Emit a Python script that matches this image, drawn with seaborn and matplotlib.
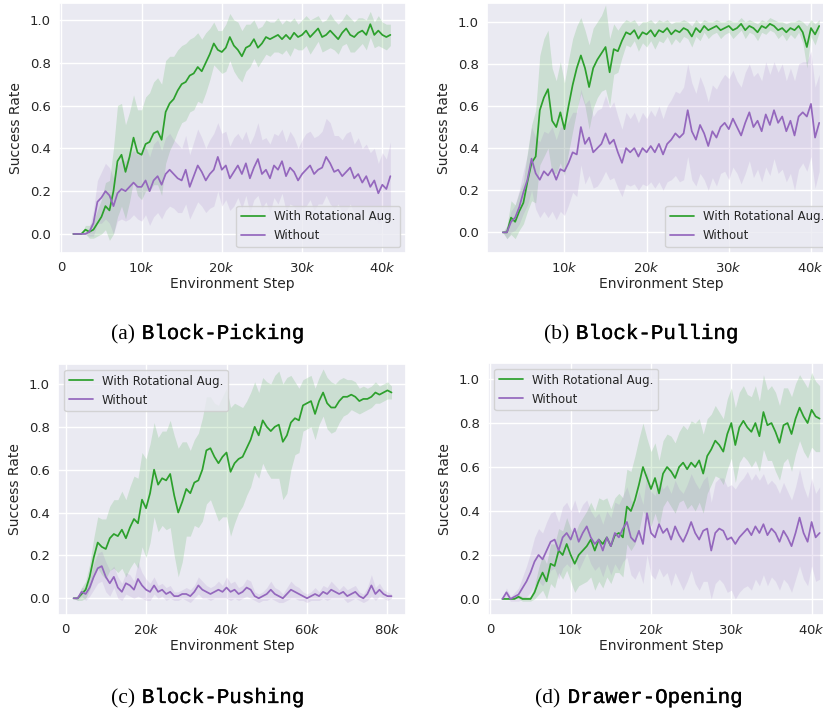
import numpy as np
import pandas as pd
import matplotlib
matplotlib.use("Agg")
import matplotlib.pyplot as plt
import matplotlib.patheffects as pe
from matplotlib.ticker import FuncFormatter, MultipleLocator
import seaborn as sns

# ---------------------------------------------------------------------------
# Success rate (in percent) with a +/- spread, for each task.
# "aug" = with rotational augmentation, "base" = without.
# ---------------------------------------------------------------------------
LABEL_AUG = "With Rotational Aug."
LABEL_BASE = "Without"

picking_steps = np.arange(1500, 41001, 500)
picking_aug = [
    0, 0, 0, 2, 1, 2, 5, 8, 13, 11,
    20, 34, 37, 29, 36, 45, 38, 37, 42, 43,
    47, 48, 44, 57, 61, 63, 67, 70, 71, 74,
    75, 78, 76, 80, 84, 89, 86, 85, 87, 92,
    88, 86, 83, 87, 88, 91, 87, 89, 92, 91,
    92, 93, 91, 93, 91, 94, 92, 93, 95, 92,
    94, 96, 92, 93, 95, 93, 91, 94, 96, 93,
    92, 94, 95, 93, 98, 93, 95, 93, 92, 93]
picking_aug_sd = [
    0, 0, 0, 2, 3, 4, 6, 8, 11, 14,
    20, 26, 24, 22, 21, 20, 20, 21, 22, 23,
    24, 25, 26, 24, 22, 20, 19, 18, 18, 17,
    17, 16, 15, 14, 12, 10, 9, 10, 11, 11,
    12, 13, 12, 11, 10, 9, 9, 8, 8, 8,
    7, 8, 7, 7, 8, 7, 6, 7, 7, 8,
    7, 6, 7, 7, 8, 7, 7, 6, 7, 8,
    7, 7, 6, 7, 6, 6, 7, 6, 6, 5]
picking_base = [
    0, 0, 0, 0, 1, 5, 15, 17, 20, 18,
    13, 19, 21, 20, 22, 24, 22, 22, 25, 20,
    25, 27, 23, 28, 30, 28, 26, 25, 30, 22,
    27, 32, 29, 25, 28, 30, 36, 30, 32, 26,
    29, 32, 28, 33, 26, 31, 35, 28, 30, 26,
    32, 30, 34, 27, 31, 29, 25, 28, 30, 32,
    28, 30, 31, 36, 33, 29, 30, 27, 29, 31,
    26, 28, 24, 27, 22, 25, 19, 23, 21, 27]
picking_base_sd = [
    0, 0, 0, 0, 2, 6, 10, 12, 13, 13,
    13, 13, 14, 14, 15, 15, 15, 16, 16, 16,
    17, 17, 16, 17, 17, 16, 16, 15, 16, 15,
    16, 17, 16, 15, 16, 17, 16, 17, 16, 15,
    16, 15, 16, 15, 16, 15, 17, 16, 15, 16,
    15, 16, 15, 16, 17, 16, 15, 16, 17, 16,
    17, 16, 17, 18, 19, 17, 16, 17, 18, 17,
    16, 17, 16, 15, 16, 15, 14, 15, 14, 16]

pulling_steps = np.arange(2500, 41001, 500)
pulling_aug = [
    0, 0, 7, 5, 10, 14, 24, 33, 36, 58,
    64, 68, 53, 50, 57, 49, 60, 70, 78, 84,
    78, 69, 78, 82, 85, 88, 76, 87, 86, 91,
    95, 94, 96, 92, 95, 94, 96, 93, 96, 95,
    97, 94, 96, 95, 97, 96, 93, 97, 95, 98,
    96, 97, 98, 96, 97, 98, 96, 97, 99, 96,
    98, 97, 95, 98, 97, 99, 98, 96, 97, 95,
    97, 96, 98, 95, 88, 97, 94, 98]
pulling_aug_sd = [
    0, 3, 8, 8, 9, 10, 14, 18, 22, 26,
    28, 28, 25, 22, 24, 22, 22, 22, 20, 18,
    18, 20, 19, 18, 18, 20, 16, 12, 10, 8,
    6, 6, 5, 6, 5, 6, 5, 6, 5, 5,
    4, 5, 4, 5, 4, 4, 5, 4, 4, 3,
    4, 3, 3, 4, 3, 3, 4, 3, 3, 4,
    3, 3, 4, 3, 3, 3, 3, 4, 3, 4,
    3, 4, 3, 5, 10, 4, 5, 3]
pulling_base = [
    0, 0, 5, 7, 12, 19, 25, 35, 28, 25,
    29, 27, 30, 25, 30, 29, 33, 38, 37, 50,
    42, 45, 38, 40, 42, 47, 42, 44, 38, 33,
    40, 38, 40, 36, 40, 38, 41, 38, 42, 37,
    42, 44, 47, 45, 47, 58, 48, 44, 51, 47,
    41, 48, 45, 50, 52, 49, 54, 50, 46, 52,
    57, 50, 53, 48, 56, 51, 58, 52, 55, 48,
    53, 46, 55, 57, 55, 61, 45, 52]
pulling_base_sd = [
    0, 3, 5, 6, 8, 10, 12, 15, 17, 18,
    19, 20, 20, 19, 20, 21, 20, 19, 20, 18,
    19, 18, 17, 18, 17, 18, 17, 18, 17, 16,
    17, 16, 17, 16, 17, 16, 17, 17, 18, 17,
    18, 19, 20, 21, 22, 22, 23, 22, 23, 22,
    21, 22, 23, 22, 23, 24, 23, 22, 23, 24,
    23, 24, 23, 24, 25, 24, 23, 24, 25, 24,
    25, 26, 25, 24, 26, 25, 24, 23]

pushing_steps = np.arange(2000, 81001, 1000)
pushing_aug = [
    0, 0, 2, 4, 10, 19, 26, 24, 23, 28,
    30, 29, 32, 28, 33, 37, 35, 46, 42, 49,
    60, 53, 56, 55, 58, 48, 40, 45, 51, 49,
    54, 55, 60, 69, 70, 66, 63, 66, 68, 59,
    63, 65, 66, 70, 74, 80, 76, 83, 80, 78,
    80, 81, 73, 76, 82, 84, 83, 90, 91, 92,
    86, 92, 96, 91, 89, 89, 92, 94, 94, 95,
    94, 92, 93, 93, 94, 96, 95, 96, 97, 96]
pushing_aug_sd = [
    0, 1, 3, 4, 6, 9, 12, 13, 14, 15,
    16, 17, 18, 18, 19, 20, 21, 22, 23, 23,
    22, 22, 22, 23, 25, 28, 30, 28, 22, 20,
    20, 22, 24, 25, 24, 25, 27, 28, 30, 30,
    28, 25, 23, 22, 22, 21, 20, 20, 21, 22,
    24, 25, 27, 27, 22, 17, 15, 12, 12, 12,
    12, 11, 11, 12, 12, 11, 10, 9, 8, 7,
    7, 6, 6, 5, 5, 5, 4, 4, 4, 3]
pushing_base = [
    0, 0, 3, 2, 5, 10, 14, 15, 10, 7,
    10, 5, 3, 7, 6, 4, 9, 6, 4, 3,
    6, 3, 4, 2, 3, 1, 1, 2, 2, 1,
    3, 6, 4, 3, 2, 3, 4, 3, 5, 3,
    4, 2, 3, 5, 4, 1, 0, 1, 2, 4,
    2, 1, 0, 2, 4, 3, 2, 1, 0, 1,
    2, 1, 3, 2, 4, 3, 2, 3, 1, 2,
    3, 1, 0, 2, 6, 2, 4, 2, 1, 1]
pushing_base_sd = [
    0, 1, 2, 3, 4, 6, 7, 7, 7, 6,
    5, 5, 4, 5, 5, 4, 8, 6, 5, 4,
    4, 3, 3, 3, 3, 2, 2, 2, 3, 3,
    3, 4, 4, 3, 3, 3, 4, 3, 5, 4,
    4, 3, 3, 4, 4, 2, 2, 2, 3, 4,
    3, 3, 2, 3, 4, 3, 3, 2, 2, 2,
    3, 2, 3, 3, 4, 3, 2, 3, 3, 3,
    3, 2, 2, 3, 5, 3, 3, 2, 2, 1]

drawer_steps = np.arange(1500, 41001, 500)
drawer_aug = [
    0, 0, 0, 0, 1, 0, 0, 0, 3, 8,
    12, 8, 16, 15, 22, 20, 25, 20, 16, 20,
    22, 24, 27, 22, 27, 25, 28, 24, 29, 30,
    28, 42, 40, 45, 52, 60, 55, 50, 55, 48,
    57, 60, 58, 55, 60, 62, 59, 62, 60, 63,
    57, 65, 68, 72, 70, 67, 75, 80, 70, 78,
    81, 78, 76, 80, 74, 85, 79, 80, 76, 71,
    79, 80, 75, 82, 87, 83, 80, 86, 83, 82]
drawer_aug_sd = [
    0, 0, 0, 0, 1, 1, 1, 1, 3, 6,
    8, 8, 9, 10, 10, 11, 12, 12, 13, 14,
    15, 16, 17, 18, 19, 20, 18, 17, 17, 18,
    18, 17, 18, 20, 21, 20, 18, 17, 16, 15,
    15, 15, 16, 16, 16, 17, 18, 19, 20, 19,
    18, 17, 16, 16, 15, 15, 16, 16, 17, 16,
    16, 15, 16, 17, 16, 17, 16, 17, 18, 17,
    17, 16, 17, 16, 15, 16, 16, 17, 16, 15]
drawer_base = [
    0, 3, 0, 1, 2, 5, 8, 12, 17, 20,
    18, 22, 26, 27, 22, 28, 30, 27, 32, 26,
    30, 33, 28, 25, 27, 22, 28, 24, 30, 28,
    32, 35, 28, 26, 31, 25, 39, 30, 28, 34,
    30, 32, 27, 33, 29, 26, 30, 35, 30, 27,
    31, 32, 22, 30, 32, 31, 27, 28, 25, 28,
    30, 32, 29, 33, 30, 34, 29, 32, 30, 26,
    31, 28, 24, 30, 37, 30, 26, 35, 28, 30]
drawer_base_sd = [
    0, 2, 1, 2, 3, 5, 7, 9, 11, 12,
    12, 13, 13, 13, 13, 14, 14, 13, 13, 13,
    13, 12, 12, 12, 12, 12, 12, 13, 14, 15,
    15, 16, 17, 17, 18, 18, 19, 19, 19, 20,
    20, 20, 21, 21, 21, 22, 22, 22, 23, 23,
    23, 24, 22, 23, 23, 24, 24, 24, 25, 25,
    25, 26, 25, 24, 24, 23, 23, 22, 22, 22,
    22, 21, 21, 21, 22, 21, 20, 20, 20, 21]

GREEN = "#2ca02c"
PURPLE = "#9467bd"

sns.set_theme(style="darkgrid")
plt.rcParams["font.family"] = ["DejaVu Sans"]

W, H = 823, 711
fig = plt.figure(figsize=(W / 100, H / 100), dpi=100)


def add_axes_px(left, top, width, height):
    return fig.add_axes([left / W, 1 - (top + height) / H, width / W, height / H])


def k_formatter(v, pos):
    if abs(v) < 1e-9:
        return "0"
    return f"${v / 1000:.0f}k$"


def draw_panel(ax, steps, aug, aug_sd, base, base_sd, xlim, ylim, xstep, legend_loc):
    aug = np.asarray(aug, float) / 100
    aug_sd = np.asarray(aug_sd, float) / 100
    base = np.asarray(base, float) / 100
    base_sd = np.asarray(base_sd, float) / 100
    n = len(steps)
    df = pd.DataFrame({
        "step": np.concatenate([steps, steps]),
        "rate": np.concatenate([aug, base]),
        "method": [LABEL_AUG] * n + [LABEL_BASE] * n,
    })
    ax.fill_between(steps, aug - aug_sd, aug + aug_sd, color=GREEN, alpha=0.16, lw=0)
    ax.fill_between(steps, base - base_sd, base + base_sd, color=PURPLE, alpha=0.14, lw=0)
    sns.lineplot(data=df, x="step", y="rate", hue="method",
                 palette={LABEL_AUG: GREEN, LABEL_BASE: PURPLE},
                 errorbar=None, lw=1.25, ax=ax)
    ax.set_xlim(*xlim)
    ax.set_ylim(*ylim)
    ax.xaxis.set_major_locator(MultipleLocator(xstep))
    ax.xaxis.set_major_formatter(FuncFormatter(k_formatter))
    ax.yaxis.set_major_locator(MultipleLocator(0.2))
    ax.yaxis.set_major_formatter(FuncFormatter(lambda v, p: f"{v:.1f}"))
    ax.tick_params(labelsize=9.5, length=0, pad=6)
    ax.set_xlabel("Environment Step", fontsize=10, labelpad=1)
    ax.set_ylabel("Success Rate", fontsize=10, labelpad=5)
    handles, labels = ax.get_legend_handles_labels()
    ax.legend(handles, labels, loc=legend_loc, fontsize=8.5, title=None)


ax_a = add_axes_px(59.3, 3, 346.7, 250)
ax_b = add_axes_px(487, 3, 348, 250)
ax_c = add_axes_px(58.3, 364, 347.7, 251)
ax_d = add_axes_px(488.3, 363, 347, 252)

draw_panel(ax_a, picking_steps, picking_aug, picking_aug_sd, picking_base, picking_base_sd,
           (-250, 42950), (-0.089, 1.079), 10000, "lower right")
draw_panel(ax_b, pulling_steps, pulling_aug, pulling_aug_sd, pulling_base, pulling_base_sd,
           (575, 42925), (-0.098, 1.089), 10000, "lower right")
draw_panel(ax_c, pushing_steps, pushing_aug, pushing_aug_sd, pushing_base, pushing_base_sd,
           (-1800, 84600), (-0.078, 1.093), 20000, "upper left")
draw_panel(ax_d, drawer_steps, drawer_aug, drawer_aug_sd, drawer_base, drawer_base_sd,
           (-260, 42950), (-0.073, 1.073), 10000, "upper left")

# Sub-captions: serif tag followed by the task name in typewriter type
captions = [
    ("(a)", "Block-Picking", 207.5, 339),
    ("(b)", "Block-Pulling", 641, 339),
    ("(c)", "Block-Pushing", 207.5, 703),
    ("(d)", "Drawer-Opening", 639, 703),
]
thicken = [pe.withStroke(linewidth=0.25, foreground="black")]
pairs = []
for tag, name, cx, base_y in captions:
    t1 = fig.text(0, 1 - base_y / H, tag, family="Liberation Serif", fontsize=15.5,
                  va="baseline", ha="left", color="black")
    t2 = fig.text(0, 1 - base_y / H, name, family="Liberation Mono", fontsize=15,
                  va="baseline", ha="left", color="black", path_effects=thicken)
    pairs.append((t1, t2, cx))

fig.canvas.draw()
renderer = fig.canvas.get_renderer()
gap = 7
for t1, t2, cx in pairs:
    w1 = t1.get_window_extent(renderer).width
    w2 = t2.get_window_extent(renderer).width
    left = cx - (w1 + gap + w2) / 2
    t1.set_x(left / W)
    t2.set_x((left + w1 + gap) / W)

fig.savefig("out.png", dpi=100)
